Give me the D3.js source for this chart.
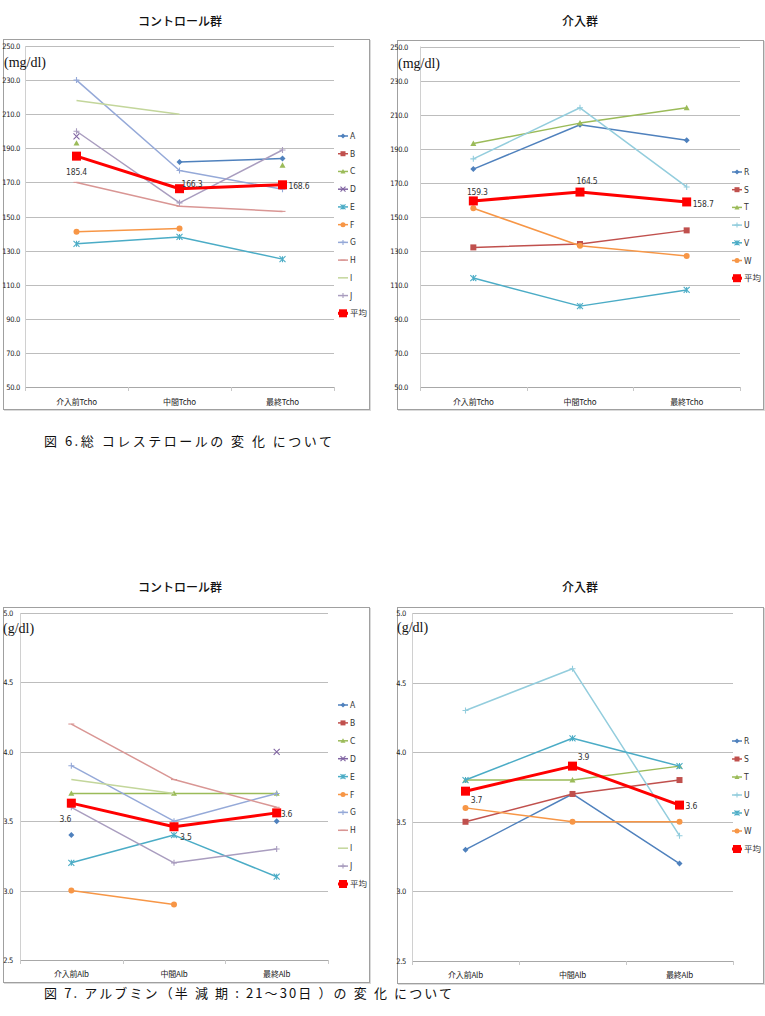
<!DOCTYPE html>
<html><head><meta charset="utf-8">
<script src="https://cdn.jsdelivr.net/npm/d3@7"></script>
<style>
html,body{margin:0;padding:0;background:#fff;}
svg{display:block;}
</style></head>
<body>
<svg id="c" width="765" height="1016"></svg>
<script>
// ---------------- DATA ----------------
const tchoCats = ["介入前Tcho", "中間Tcho", "最終Tcho"];
const albCats = ["介入前Alb", "中間Alb", "最終Alb"];
const tchoTicks = [50, 70, 90, 110, 130, 150, 170, 190, 210, 230, 250];
const albTicks = [2.5, 3.0, 3.5, 4.0, 4.5, 5.0];

const ctrlNames = ["A", "B", "C", "D", "E", "F", "G", "H", "I", "J", "平均"];
const intvNames = ["R", "S", "T", "U", "V", "W", "平均"];

const ctrlTcho = [
  [null, 182, 184],   // A
  [null, null, null], // B
  [193, null, 180],   // C
  [197, null, null],  // D
  [134, 138, 125],    // E
  [141, 143, null],   // F
  [230, 177, 166],    // G
  [170, 156, 153],    // H
  [218, 210, null],   // I
  [200, 158, 189],    // J
  [185.4, 166.3, 168.6] // 平均
];
const intvTcho = [
  [178, 204, 195],    // R
  [132, 134, 142],    // S
  [193, 205, 214],    // T
  [184, 214, 167.5],  // U
  [114, 97.5, 107],   // V
  [155, 133, 127],    // W
  [159.3, 164.5, 158.7] // 平均
];
const ctrlAlb = [
  [3.4, null, 3.5],   // A
  [null, null, null], // B
  [3.7, 3.7, 3.7],    // C
  [null, null, 4.0],  // D
  [3.2, 3.4, 3.1],    // E
  [3.0, 2.9, null],   // F
  [3.9, 3.5, 3.7],    // G
  [4.2, 3.8, 3.6],    // H
  [3.8, 3.7, null],   // I
  [3.6, 3.2, 3.3],    // J
  [3.63, 3.46, 3.56]  // 平均
];
const intvAlb = [
  [3.3, 3.7, 3.2],    // R
  [3.5, 3.7, 3.8],    // S
  [3.8, 3.8, 3.9],    // T
  [4.3, 4.6, 3.4],    // U
  [3.8, 4.1, 3.9],    // V
  [3.6, 3.5, 3.5],    // W
  [3.72, 3.9, 3.62]   // 平均
];
const tchoAvgLabels = [["185.4", "166.3", "168.6"], ["159.3", "164.5", "158.7"]];
const albAvgLabels = [["3.6", "3.5", "3.6"], ["3.7", "3.9", "3.6"]];

// ---------------- STYLE ----------------
const ctrlColors = ["#4F81BD", "#C0504D", "#9BBB59", "#8064A2", "#4BACC6", "#F79646", "#95A9D8", "#D99694", "#C3D69B", "#A99DBF", "#FF0000"];
const ctrlMarkers = ["diamond", "square", "triangle", "x", "star", "circle", "plus", "dash", "none", "plus", "avg"];
const intvColors = ["#4F81BD", "#C0504D", "#9BBB59", "#93CDDD", "#4BACC6", "#F79646", "#FF0000"];
const intvMarkers = ["diamond", "square", "triangle", "plus", "star", "circle", "avg"];

const charts = [
  { title: "コントロール群", tx: 180, ty: 26, box: [3, 39, 369, 409], x0: 25, x1: 334, yTop: 46, yBot: 387,
    domain: [50, 250], ticks: tchoTicks, fmt: d3.format(".1f"), cats: tchoCats, unit: "(mg/dl)", ux: 4, uy: 67,
    tickRight: 20, catY: 405, names: ctrlNames, data: ctrlTcho, colors: ctrlColors, markers: ctrlMarkers,
    legX: 343, legY: 136, legStep: 17.73, labels: tchoAvgLabels[0],
    labPos: [[0, 19, "middle"], [2, -2, "start"], [6, 4, "start"]] },
  { title: "介入群", tx: 580, ty: 26, box: [397, 40, 763, 409], x0: 420, x1: 740, yTop: 46.5, yBot: 387,
    domain: [50, 250], ticks: tchoTicks, fmt: d3.format(".1f"), cats: tchoCats, unit: "(mg/dl)", ux: 398, uy: 68,
    tickRight: 408, catY: 405, names: intvNames, data: intvTcho, colors: intvColors, markers: intvMarkers,
    legX: 737, legY: 172, legStep: 17.7, labels: tchoAvgLabels[1],
    labPos: [[4, -6, "middle"], [7, -8, "middle"], [6, 5, "start"]] },
  { title: "コントロール群", tx: 180, ty: 592, box: [3, 607, 369, 982], x0: 20, x1: 328, yTop: 613, yBot: 960,
    domain: [2.5, 5.0], ticks: albTicks, fmt: d3.format(".1f"), cats: albCats, unit: "(g/dl)", ux: 3, uy: 633,
    tickRight: 13, catY: 977, names: ctrlNames, data: ctrlAlb, colors: ctrlColors, markers: ctrlMarkers,
    legX: 343, legY: 705, legStep: 17.9, labels: albAvgLabels[0],
    labPos: [[-6, 19, "middle"], [6, 13, "start"], [4, 4, "start"]] },
  { title: "介入群", tx: 580, ty: 592, box: [397, 607, 763, 983], x0: 412, x1: 733, yTop: 613, yBot: 961,
    domain: [2.5, 5.0], ticks: albTicks, fmt: d3.format(".1f"), cats: albCats, unit: "(g/dl)", ux: 397, uy: 632,
    tickRight: 406, catY: 978, names: intvNames, data: intvAlb, colors: intvColors, markers: intvMarkers,
    legX: 737, legY: 741, legStep: 18, labels: albAvgLabels[1],
    labPos: [[11, 12, "middle"], [11, -6, "middle"], [6, 4, "start"]] }
];

const svg = d3.select("#c");
const numFont = "'Liberation Sans Narrow','DejaVu Sans Condensed','Liberation Sans',sans-serif";
const jpFont = "'Noto Sans CJK JP','Noto Sans',sans-serif";

function markerPath(type, s) {
  switch (type) {
    case "diamond": return `M0,${-s}L${s},0L0,${s}L${-s},0Z`;
    case "square": return `M${-s},${-s}h${2*s}v${2*s}h${-2*s}Z`;
    case "triangle": return `M0,${-s}L${s},${s*0.8}L${-s},${s*0.8}Z`;
    case "circle": return d3.symbol(d3.symbolCircle, Math.PI*s*s)();
    case "x": return `M${-s},${-s}L${s},${s}M${-s},${s}L${s},${-s}`;
    case "star": return `M${-s},${-s}L${s},${s}M${-s},${s}L${s},${-s}M0,${-s}L0,${s}`;
    case "plus": return `M${-s},0L${s},0M0,${-s}L0,${s}`;
    case "dash": return `M${-s},0L${s},0`;
    case "avg": return `M${-s},${-s}h${2*s}v${2*s}h${-2*s}Z`;
    default: return "";
  }
}
const filled = t => ["diamond", "square", "triangle", "circle", "avg"].includes(t);

function drawMarker(g, type, color, x, y, s) {
  if (type === "none") return;
  const p = g.append("path").attr("d", markerPath(type, s)).attr("transform", `translate(${x},${y})`);
  if (filled(type)) p.attr("fill", color).attr("stroke", "none");
  else p.attr("fill", "none").attr("stroke", color).attr("stroke-width", 1.1);
}

charts.forEach(c => {
  const g = svg.append("g");
  // frame
  g.append("rect").attr("x", c.box[0] + 1.5).attr("y", c.box[1] + 1.5)
    .attr("width", c.box[2] - c.box[0]).attr("height", c.box[3] - c.box[1])
    .attr("fill", "none").attr("stroke", "#DADADA").attr("stroke-width", 1);
  g.append("rect").attr("x", c.box[0] + 0.5).attr("y", c.box[1] + 0.5)
    .attr("width", c.box[2] - c.box[0]).attr("height", c.box[3] - c.box[1])
    .attr("fill", "#fff").attr("stroke", "#A0A0A0").attr("stroke-width", 1);
  // title
  svg.append("text").attr("x", c.tx).attr("y", c.ty).attr("text-anchor", "middle")
    .attr("font-family", jpFont).attr("font-size", 12).attr("font-weight", 500).attr("fill", "#111").text(c.title);

  const y = d3.scaleLinear().domain(c.domain).range([c.yBot, c.yTop]);
  const x = d3.scalePoint().domain(c.cats).range([c.x0, c.x1]).padding(0.5);
  const band = (c.x1 - c.x0) / c.cats.length;

  // gridlines
  g.selectAll(".grid").data(c.ticks).enter().append("line")
    .attr("x1", c.x0).attr("x2", c.x1)
    .attr("y1", d => Math.round(y(d)) + 0.5).attr("y2", d => Math.round(y(d)) + 0.5)
    .attr("stroke", d => d === c.domain[0] ? "#A8A8A8" : "#BDBDBD").attr("stroke-width", 1);
  // y axis line
  g.append("line").attr("x1", c.x0 + 0.5).attr("x2", c.x0 + 0.5).attr("y1", c.yTop).attr("y2", c.yBot)
    .attr("stroke", "#D0D0D0");
  // x ticks at band boundaries
  d3.range(c.cats.length + 1).forEach(i => {
    const xx = Math.round(c.x0 + i * band) + 0.5;
    g.append("line").attr("x1", xx).attr("x2", xx).attr("y1", c.yBot).attr("y2", c.yBot + 4).attr("stroke", "#C8C8C8");
  });
  // y tick labels
  g.selectAll(".yt").data(c.ticks).enter().append("text")
    .attr("x", c.tickRight).attr("y", d => y(d) + 3).attr("text-anchor", "end")
    .attr("font-family", numFont).attr("font-size", 7.5).attr("letter-spacing", -0.3)
    .attr("fill", "#222").text(d => c.fmt(d));
  // x labels
  g.selectAll(".xt").data(c.cats).enter().append("text")
    .attr("x", d => x(d)).attr("y", c.catY).attr("text-anchor", "middle")
    .attr("font-family", jpFont).attr("font-size", 8).attr("letter-spacing", -0.2)
    .attr("fill", "#222").text(d => d);
  // unit
  g.append("text").attr("x", c.ux).attr("y", c.uy)
    .attr("font-family", "'Liberation Serif','DejaVu Serif',serif").attr("font-size", 14).attr("fill", "#111").text(c.unit);

  // series
  const line = d3.line().defined(d => d.v != null).x(d => x(d.c)).y(d => y(d.v));
  c.data.forEach((vals, si) => {
    const isAvg = c.markers[si] === "avg";
    const pts = vals.map((v, i) => ({ v, c: c.cats[i] }));
    g.append("path").datum(pts).attr("d", line).attr("fill", "none")
      .attr("stroke", c.colors[si]).attr("stroke-width", isAvg ? 3 : 1.5).attr("stroke-linejoin", "round");
    pts.forEach(p => {
      if (p.v == null) return;
      drawMarker(g, c.markers[si], c.colors[si], x(p.c), y(p.v), isAvg ? 4.5 : 3);
    });
    if (isAvg) {
      pts.forEach((p, i) => {
        const lp = c.labPos[i];
        g.append("text").attr("x", x(p.c) + lp[0]).attr("y", y(p.v) + lp[1]).attr("text-anchor", lp[2])
          .attr("font-family", numFont).attr("font-size", 8.5).attr("letter-spacing", -0.2)
          .attr("fill", "#333").text(c.labels[i]);
      });
    }
  });

  // legend
  c.names.forEach((n, i) => {
    const ly = c.legY + i * c.legStep;
    const isAvg = c.markers[i] === "avg";
    g.append("line").attr("x1", c.legX - 5).attr("x2", c.legX + 5).attr("y1", ly).attr("y2", ly)
      .attr("stroke", c.colors[i]).attr("stroke-width", isAvg ? 3 : 1.5);
    drawMarker(g, c.markers[i], c.colors[i], c.legX, ly, isAvg ? 4 : 2.5);
    g.append("text").attr("x", c.legX + 7).attr("y", ly + 3)
      .attr("font-family", isAvg ? jpFont : numFont).attr("font-size", 8.5).attr("fill", "#333").text(n);
  });
});

// captions
svg.append("text").attr("x", 44).attr("y", 446).attr("font-family", jpFont).attr("font-size", 13)
  .attr("fill", "#111").attr("textLength", 288).attr("lengthAdjust", "spacing")
  .text("図 6.総 コレステロールの 変 化 について");
svg.append("text").attr("x", 44).attr("y", 998).attr("font-family", jpFont).attr("font-size", 13)
  .attr("fill", "#111").attr("textLength", 408).attr("lengthAdjust", "spacing")
  .text("図 7. アルブミン（半 減 期 : 21～30日 ）の 変 化 について");
</script>
</body></html>
